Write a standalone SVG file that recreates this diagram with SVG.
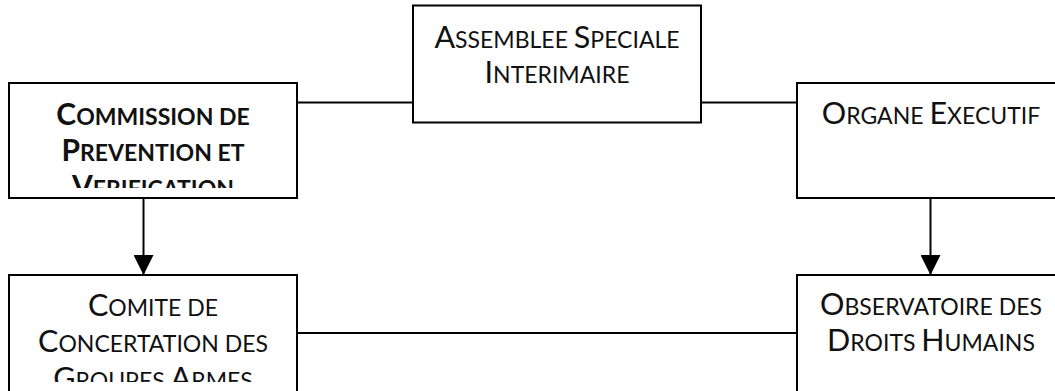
<svg xmlns="http://www.w3.org/2000/svg" width="1055" height="391" viewBox="0 0 1055 391">
<style>
.box{fill:#fff;stroke:#000;stroke-width:2}
.t{font-family:Lato,"Open Sans",sans-serif;font-size:30.5px;fill:#111;text-anchor:middle}
.b{font-weight:bold;font-size:30px}
.s{font-size:23px}
.c{stroke:#000;stroke-width:2;fill:none}
</style>
<defs>
<marker id="ah" markerWidth="20" markerHeight="20" refX="20" refY="10" orient="auto" markerUnits="userSpaceOnUse">
<path d="M0,0 L20,10 L0,20 Z" fill="#000"/>
</marker>
<clipPath id="clipL"><rect x="9" y="83" width="288" height="105"/></clipPath>
<clipPath id="clipBL"><rect x="9" y="275" width="288" height="107"/></clipPath>
</defs>
<g id="connectors">
<line class="c" x1="297" y1="102.5" x2="413" y2="102.5"/>
<line class="c" x1="701" y1="102.5" x2="797" y2="102.5"/>
<line class="c" x1="143.5" y1="198" x2="143.5" y2="275" marker-end="url(#ah)"/>
<line class="c" x1="930.5" y1="198" x2="930.5" y2="275" marker-end="url(#ah)"/>
<line class="c" x1="297" y1="333" x2="797" y2="333"/>
</g>
<g id="assemblee">
<rect class="box" x="413" y="5.5" width="288" height="117"/>
<text class="t" x="557" y="48"><tspan>A</tspan><tspan class="s">SSEMBLEE </tspan><tspan>S</tspan><tspan class="s">PECIALE</tspan></text>
<text class="t" x="557" y="83"><tspan>I</tspan><tspan class="s">NTERIMAIRE</tspan></text>
</g>
<g id="commission">
<rect class="box" x="9" y="83" width="288" height="115"/>
<g clip-path="url(#clipL)">
<text class="t b" x="153" y="125"><tspan>C</tspan><tspan class="s">OMMISSION DE</tspan></text>
<text class="t b" x="153" y="161"><tspan>P</tspan><tspan class="s">REVENTION ET</tspan></text>
<text class="t b" x="153" y="197"><tspan>V</tspan><tspan class="s">ERIFICATION</tspan></text>
</g>
</g>
<g id="organe">
<rect class="box" x="797" y="83" width="268" height="115"/>
<text class="t" x="931" y="124"><tspan>O</tspan><tspan class="s">RGANE </tspan><tspan>E</tspan><tspan class="s">XECUTIF</tspan></text>
</g>
<g id="comite">
<rect class="box" x="9" y="275" width="288" height="130"/>
<g clip-path="url(#clipBL)">
<text class="t" x="153" y="316"><tspan>C</tspan><tspan class="s">OMITE DE</tspan></text>
<text class="t" x="153" y="352"><tspan>C</tspan><tspan class="s">ONCERTATION DES</tspan></text>
<text class="t" x="153" y="389"><tspan>G</tspan><tspan class="s">ROUPES </tspan><tspan>A</tspan><tspan class="s">RMES</tspan></text>
</g>
</g>
<g id="observatoire">
<rect class="box" x="797" y="275" width="268" height="130"/>
<text class="t" x="931" y="315"><tspan>O</tspan><tspan class="s">BSERVATOIRE DES</tspan></text>
<text class="t" x="931" y="351"><tspan>D</tspan><tspan class="s">ROITS </tspan><tspan>H</tspan><tspan class="s">UMAINS</tspan></text>
</g>
</svg>
